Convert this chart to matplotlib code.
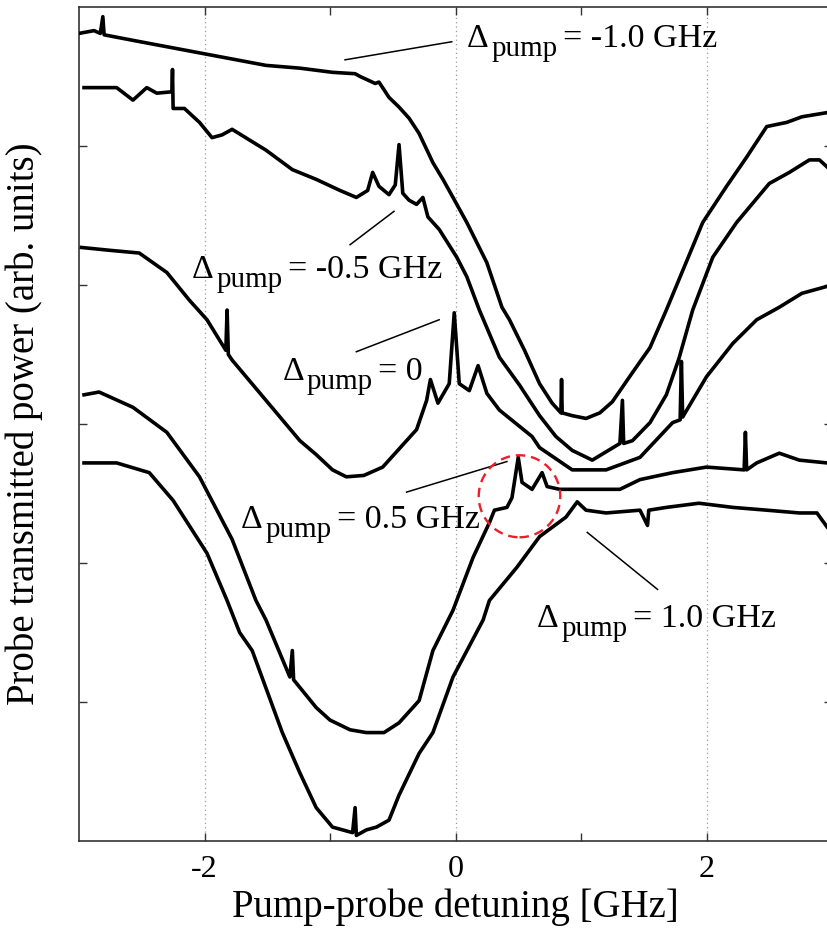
import matplotlib

matplotlib.use("Agg")
import matplotlib.pyplot as plt
from matplotlib.patches import Ellipse
from matplotlib.transforms import IdentityTransform

plt.rcParams["font.family"] = ["Liberation Serif", "DejaVu Serif"]

# pump-probe detuning [GHz] and probe transmission (arb. units)
det_m10 = [-3.00, -2.88, -2.83, -2.81, -2.80, -2.57, -2.04, -1.51, -1.24, -0.98, -0.80, -0.76,
           -0.64, -0.61, -0.53, -0.45, -0.37, -0.29, -0.18, -0.10, -0.02, 0.09, 0.25, 0.37,
           0.43, 0.55, 0.67, 0.77, 0.84, 0.845, 0.85, 0.93, 1.04, 1.15, 1.25, 1.41, 1.55, 1.68,
           1.97, 2.16, 2.32, 2.48, 2.64, 2.76, 2.96]
pow_m10 = [5.81, 5.83, 5.81, 5.93, 5.80, 5.76, 5.67, 5.58, 5.56, 5.53, 5.52, 5.50,
           5.45, 5.46, 5.35, 5.28, 5.20, 5.09, 4.88, 4.76, 4.63, 4.45, 4.16, 3.84,
           3.75, 3.53, 3.29, 3.15, 3.08, 3.32, 3.08, 3.06, 3.04, 3.08, 3.16, 3.37, 3.55, 3.82,
           4.45, 4.71, 4.92, 5.14, 5.17, 5.21, 5.24]

det_m05 = [-2.96, -2.70, -2.57, -2.46, -2.38, -2.26, -2.255, -2.25, -2.16, -2.04, -1.94, -1.86,
           -1.78, -1.51, -1.30, -1.11, -0.92, -0.79, -0.70, -0.66, -0.61, -0.53, -0.48, -0.45,
           -0.42, -0.37, -0.31, -0.26, -0.22, -0.13, 0.01, 0.09, 0.19, 0.35, 0.51, 0.67, 0.80,
           0.93, 1.09, 1.20, 1.31, 1.33, 1.34, 1.41, 1.55, 1.68, 1.78, 1.89, 2.05, 2.24, 2.50,
           2.66, 2.82, 2.90, 2.96]
pow_m05 = [5.42, 5.42, 5.33, 5.42, 5.38, 5.39, 5.55, 5.27, 5.27, 5.17, 5.06, 5.08,
           5.12, 4.97, 4.83, 4.76, 4.68, 4.63, 4.68, 4.81, 4.71, 4.65, 4.72, 5.01,
           4.66, 4.61, 4.58, 4.63, 4.49, 4.40, 4.20, 4.06, 3.82, 3.48, 3.28, 3.06, 2.91,
           2.81, 2.74, 2.80, 2.86, 3.17, 2.86, 2.88, 3.01, 3.21, 3.47, 3.82, 4.20, 4.45, 4.73,
           4.81, 4.90, 4.90, 4.85]

det_0 = [-2.98, -2.76, -2.52, -2.30, -2.12, -1.98, -1.83, -1.82, -1.81, -1.78, -1.51, -1.24,
         -1.11, -0.98, -0.87, -0.73, -0.58, -0.45, -0.31, -0.23, -0.20, -0.14, -0.05, -0.01,
         0.03, 0.11, 0.18, 0.25, 0.35, 0.61, 0.67, 0.93, 1.20, 1.47, 1.73, 1.79, 1.80, 1.81,
         2.00, 2.21, 2.40, 2.58, 2.76, 2.96]
pow_0 = [4.27, 4.25, 4.23, 4.09, 3.89, 3.75, 3.53, 3.82, 3.50, 3.46, 3.17, 2.88,
         2.78, 2.67, 2.62, 2.63, 2.69, 2.82, 2.96, 3.17, 3.32, 3.15, 3.29, 3.80,
         3.29, 3.24, 3.42, 3.22, 3.10, 2.91, 2.83, 2.67, 2.67, 2.76, 3.01, 3.03, 3.45, 3.05,
         3.34, 3.58, 3.75, 3.84, 3.94, 3.99]

det_p05 = [-2.96, -2.84, -2.57, -2.30, -2.04, -1.78, -1.59, -1.51, -1.32, -1.30, -1.29, -1.11,
           -1.00, -0.84, -0.71, -0.57, -0.45, -0.29, -0.18, -0.02, 0.14, 0.27, 0.31, 0.41, 0.45,
           0.50, 0.53, 0.61, 0.69, 0.73, 0.83, 1.07, 1.31, 1.47, 1.73, 2.00, 2.30, 2.31, 2.32,
           2.40, 2.58, 2.74, 2.96]
pow_p05 = [3.21, 3.23, 3.12, 2.94, 2.62, 2.17, 1.73, 1.59, 1.18, 1.37, 1.16, 0.96,
           0.87, 0.80, 0.78, 0.78, 0.85, 1.01, 1.37, 1.66, 2.04, 2.29, 2.38, 2.40, 2.47,
           2.76, 2.58, 2.53, 2.65, 2.55, 2.53, 2.53, 2.53, 2.60, 2.65, 2.69, 2.67, 2.94, 2.67,
           2.72, 2.79, 2.74, 2.72]

det_p10 = [-2.96, -2.70, -2.44, -2.25, -1.98, -1.82, -1.72, -1.62, -1.38, -1.24, -1.11, -0.98,
           -0.82, -0.80, -0.79, -0.71, -0.63, -0.53, -0.45, -0.29, -0.18, -0.02, 0.22, 0.27,
           0.49, 0.67, 0.88, 0.97, 1.04, 1.20, 1.47, 1.53, 1.54, 1.68, 1.94, 2.21, 2.48, 2.74,
           2.88, 2.96]
pow_p10 = [2.72, 2.72, 2.65, 2.45, 2.07, 1.73, 1.50, 1.37, 0.78, 0.49, 0.24, 0.10,
           0.06, 0.24, 0.04, 0.08, 0.10, 0.15, 0.33, 0.63, 0.78, 1.18, 1.59, 1.73,
           1.97, 2.19, 2.33, 2.44, 2.38, 2.36, 2.38, 2.27, 2.38, 2.40, 2.43, 2.40, 2.38, 2.36,
           2.36, 2.26]

traces = [(det_m10, pow_m10), (det_m05, pow_m05), (det_0, pow_0), (det_p05, pow_p05), (det_p10, pow_p10)]

# annotation text: (pump detuning string, anchor x [GHz], baseline y [arb.])
label_values = ["-1.0 GHz", "-0.5 GHz", "0", "0.5 GHz", "1.0 GHz"]
label_x = [0.09, -2.10, -1.38, -1.71, 0.65]
label_y = [5.71, 4.05, 3.32, 2.25, 1.54]
# leader lines (x0, x1, y0, y1)
leaders = [(-0.88, -0.03, 5.62, 5.75), (-0.84, -0.49, 4.29, 4.53), (-0.79, -0.13, 3.52, 3.75),
           (-0.39, 0.41, 2.51, 2.73), (1.05, 1.61, 2.22, 1.81)]

W, H = 827, 933
fig = plt.figure(figsize=(W / 100, H / 100), dpi=100)
ax = fig.add_axes([79 / W, 92 / H, 753 / W, 834 / H])

for x in [-2, 0, 2]:
    ax.axvline(x, color="#9a9a9a", lw=0.9, ls=(0, (1, 2.5)), zorder=0)

for det, pw in traces:
    ax.plot(det, pw, color="black", lw=2.6, solid_joinstyle="round", zorder=3)

for x0, x1, y0, y1 in leaders:
    ax.plot([x0, x1], [y0, y1], color="black", lw=1.1, zorder=3)

ax.add_patch(Ellipse((0.51, 2.48), 0.65, 0.59, fill=False, ec="#e8202a", lw=1.7,
                     ls=(0, (4, 2.5)), zorder=4))

ax.set_xlim(-3, 3)
ax.set_ylim(0, 6)
ax.set_xticks([-2, -1, 0, 1, 2])
ax.set_xticklabels(["-2", "", "0", "", "2"])
ax.set_yticks([1, 2, 3, 4, 5])
ax.set_yticklabels([])
ax.tick_params(direction="in", length=6, width=1.0, top=True, right=True,
               labelsize=23, pad=10, color="#333333")
for s in ax.spines.values():
    s.set_linewidth(1.2)
    s.set_color("#333333")
ax.set_xlabel("Pump-probe detuning [GHz]", fontsize=28, labelpad=3)
ax.set_ylabel("Probe transmitted power (arb. units)", fontsize=28, labelpad=16)

fig.canvas.draw()
renderer = fig.canvas.get_renderer()
ident = IdentityTransform()
for val, lx, ly in zip(label_values, label_x, label_y):
    px, py = ax.transData.transform((lx, ly))
    t = fig.text(px, py, "Δ", fontsize=24.5, va="baseline", transform=ident)
    px += t.get_window_extent(renderer).width + 3
    t = fig.text(px, py - 9, "pump", fontsize=21, va="baseline", transform=ident)
    px += t.get_window_extent(renderer).width + 5
    fig.text(px, py, "= " + val, fontsize=24.5, va="baseline", transform=ident)

fig.savefig("out.png", dpi=100)
